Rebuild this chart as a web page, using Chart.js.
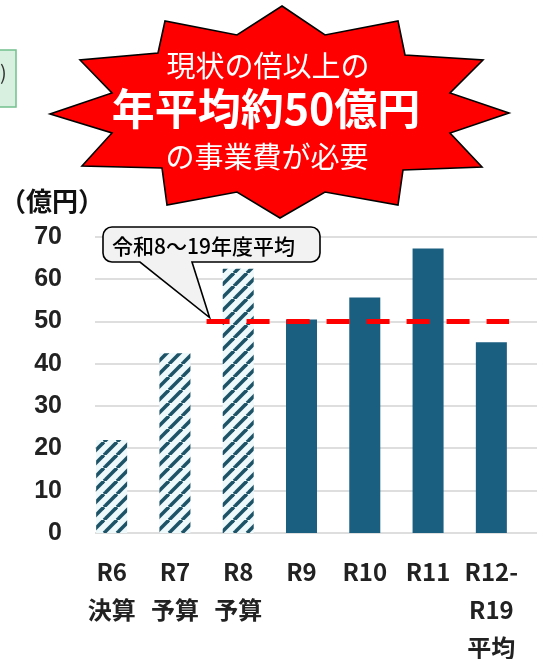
<!DOCTYPE html>
<html lang="ja">
<head>
<meta charset="utf-8">
<script src="https://cdn.jsdelivr.net/npm/chart.js@4.4.0/dist/chart.umd.min.js"></script>
<style>
  html, body { margin: 0; padding: 0; background: #fff; }
  #wrap { position: relative; width: 543px; height: 659px; }
</style>
</head>
<body>
<div id="wrap"><canvas id="chart" width="543" height="659"></canvas></div>
<script>
// data
const categories = [['R6', '決算'], ['R7', '予算'], ['R8', '予算'], ['R9'], ['R10'], ['R11'], ['R12-', 'R19', '平均']];
const values = [22, 42.5, 62.5, 50.5, 55.7, 67.3, 45.1];
const settled = [true, true, true, false, false, false, false]; // 決算・予算 (hatched) vs plan
const yTicks = [0, 10, 20, 30, 40, 50, 60, 70];
const avgValue = 50;
const avgFromIndex = 2; // R8 .. R19
const avgLabel = '令和8～19年度平均';
const unitLabel = '（億円）';
const burstLines = ['現状の倍以上の', '年平均約50億円', 'の事業費が必要'];

const JP = '"Noto Sans CJK JP", "Noto Sans", sans-serif';
const SOLID = '#1a5e80';

// ---------- utils ----------
function makeHatch() {
  const s = 13;
  const c = document.createElement('canvas');
  c.width = s; c.height = s;
  const g = c.getContext('2d');
  g.fillStyle = '#eef9fc';
  g.fillRect(0, 0, s, s);
  g.strokeStyle = '#1d5366';
  g.lineWidth = 3.6;
  for (const k of [-1, 0, 1]) {
    g.beginPath(); g.moveTo(k * s, s); g.lineTo(k * s + s, 0); g.stroke();
  }
  return g.createPattern(c, 'repeat');
}

// horizontal grid lines (reference draws them slightly shifted right)
const gridPlugin = {
  id: 'grid',
  beforeDatasetsDraw(chart) {
    const { ctx, chartArea, scales: { y } } = chart;
    ctx.save();
    ctx.strokeStyle = '#dedede';
    ctx.lineWidth = 2;
    yTicks.forEach(v => {
      const py = Math.round(y.getPixelForValue(v));
      ctx.beginPath();
      ctx.moveTo(chartArea.left + 15, py);
      ctx.lineTo(chartArea.right + 14, py);
      ctx.stroke();
    });
    ctx.restore();
  }
};

// red dashed average line
const avgPlugin = {
  id: 'avgLine',
  afterDatasetsDraw(chart) {
    const { ctx, scales: { x, y } } = chart;
    const x0 = x.getPixelForValue(avgFromIndex - 0.5);
    const x1 = x.getPixelForValue(values.length - 1 + 0.28);
    const py = y.getPixelForValue(avgValue);
    ctx.save();
    ctx.strokeStyle = '#ff0000';
    ctx.lineWidth = 5;
    ctx.setLineDash([23, 17]);
    ctx.beginPath(); ctx.moveTo(x0, py); ctx.lineTo(x1, py); ctx.stroke();
    ctx.restore();
  }
};

// callout, starburst, unit label, clipped box at left
const notesPlugin = {
  id: 'notes',
  afterDraw(chart) {
    const { ctx, scales: { x, y } } = chart;
    ctx.save();

    // green box cut at the left edge
    ctx.fillStyle = '#d7f0df';
    ctx.strokeStyle = '#73c08f';
    ctx.lineWidth = 1.5;
    ctx.fillRect(-4, 50, 20, 57);
    ctx.strokeRect(-4, 50, 20, 57);
    ctx.fillStyle = '#333';
    ctx.font = '20px ' + JP;
    ctx.textBaseline = 'middle';
    ctx.textAlign = 'left';
    ctx.fillText(')', 0, 72);

    // unit
    ctx.fillStyle = '#111';
    ctx.font = 'bold 26px ' + JP;
    ctx.fillText(unitLabel, 0, 201);

    // callout with tail pointing at start of the average line
    const bx = 103, by = 227, bw = 217, bh = 35, r = 9;
    const tipX = x.getPixelForValue(avgFromIndex - 0.5) + 3;
    const tipY = y.getPixelForValue(avgValue) - 4;
    ctx.beginPath();
    ctx.moveTo(bx + r, by);
    ctx.lineTo(bx + bw - r, by);
    ctx.arcTo(bx + bw, by, bx + bw, by + r, r);
    ctx.lineTo(bx + bw, by + bh - r);
    ctx.arcTo(bx + bw, by + bh, bx + bw - r, by + bh, r);
    ctx.lineTo(192, by + bh);
    ctx.lineTo(tipX, tipY);
    ctx.lineTo(140, by + bh);
    ctx.lineTo(bx + r, by + bh);
    ctx.arcTo(bx, by + bh, bx, by + bh - r, r);
    ctx.lineTo(bx, by + r);
    ctx.arcTo(bx, by, bx + r, by, r);
    ctx.closePath();
    ctx.fillStyle = '#f2f2f2';
    ctx.fill();
    ctx.strokeStyle = '#000';
    ctx.lineWidth = 1.6;
    ctx.stroke();
    ctx.fillStyle = '#000';
    ctx.font = '500 21px ' + JP;
    ctx.fillText(avgLabel, 112, 246);

    // starburst
    const pts = [
      [282, 6], [325, 35], [398, 21], [405, 55], [483, 60], [450, 93], [509, 113],
      [450, 133], [482, 167], [403, 170], [398, 205], [325, 192], [280, 218],
      [237, 192], [167, 205], [162, 168], [82, 166], [112, 133], [50, 114],
      [112, 93], [80, 60], [158, 53], [165, 21], [237, 35]
    ];
    ctx.beginPath();
    pts.forEach((p, i) => i ? ctx.lineTo(p[0], p[1]) : ctx.moveTo(p[0], p[1]));
    ctx.closePath();
    ctx.fillStyle = '#ff0000';
    ctx.fill();
    ctx.strokeStyle = '#000';
    ctx.lineWidth = 1.6;
    ctx.stroke();

    ctx.fillStyle = '#fff';
    ctx.textAlign = 'center';
    ctx.font = '29px ' + JP;
    ctx.fillText(burstLines[0], 268, 66);
    ctx.font = 'bold 43px ' + JP;
    ctx.fillText(burstLines[1], 266, 109);
    ctx.font = '29px ' + JP;
    ctx.fillText(burstLines[2], 267, 157);

    ctx.restore();
  }
};

// ---------- chart ----------
document.addEventListener('DOMContentLoaded', function () {
  const ctx = document.getElementById('chart').getContext('2d');
  const hatch = makeHatch();

  new Chart(ctx, {
    type: 'bar',
    data: {
      labels: categories,
      datasets: [{
        data: values,
        backgroundColor: settled.map(s => s ? hatch : SOLID),
        borderWidth: 0,
        categoryPercentage: 0.5,
        barPercentage: 0.98
      }]
    },
    options: {
      responsive: false,
      animation: false,
      devicePixelRatio: 1,
      layout: { padding: { top: 237, right: 20, bottom: 0, left: 0 } },
      plugins: { legend: { display: false }, tooltip: { enabled: false } },
      scales: {
        x: {
          grid: { display: false, drawTicks: false },
          border: { display: false },
          ticks: {
            padding: 20, color: '#222', maxRotation: 0, autoSkip: false,
            font: { family: JP, size: 24, weight: 'bold', lineHeight: 1.583 }
          },
          afterFit(s) { s.height = 126; }
        },
        y: {
          min: yTicks[0], max: yTicks[yTicks.length - 1],
          grid: { display: false, drawTicks: false },
          border: { display: false },
          ticks: {
            stepSize: 10, padding: 18, color: '#222',
            font: { family: '"Liberation Sans", Arial, sans-serif', size: 25, weight: 'bold' }
          },
          afterFit(s) { s.width = 80; }
        }
      }
    },
    plugins: [gridPlugin, avgPlugin, notesPlugin]
  });
});
</script>
</body>
</html>
